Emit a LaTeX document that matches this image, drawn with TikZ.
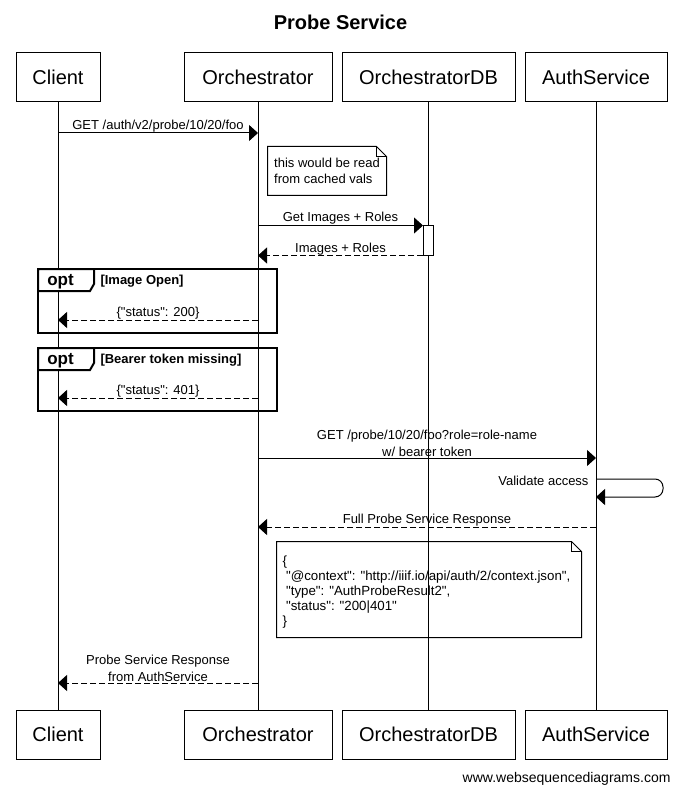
\documentclass[tikz,border=0pt]{standalone}
\usepackage{fontspec}
\setmainfont{Liberation Sans}[Ligatures=TeXOff]
\usetikzlibrary{arrows.meta}

\begin{document}
\begin{tikzpicture}[x=1pt, y=-1pt, line width=1pt,
 actorbox/.style={rectangle, draw=black, fill=white, minimum height=49pt, inner sep=0pt, font=\fontsize{20}{24}\selectfont},
 msg/.style={-{Triangle[length=9pt,width=16pt]}},
 replymsg/.style={msg, dash pattern=on 6pt off 3pt},
 msglabel/.style={font=\fontsize{13}{17}\selectfont, inner sep=0pt, align=center, anchor=base, midway, yshift=3.5pt},
 msglabeltwo/.style={msglabel, yshift=-1.5pt},
 notetext/.style={font=\fontsize{13}{16.5}\selectfont, inner sep=0pt, align=left},
 optframe/.style={line width=2pt},
 opttag/.style={font=\fontsize{17}{20}\bfseries\selectfont, inner sep=0pt, anchor=base},
 guardtext/.style={font=\fontsize{13}{16}\bfseries\selectfont, inner sep=0pt, anchor=base west}]

   \useasboundingbox (0,0) rectangle (681,794);

   \node[font=\fontsize{20}{24}\bfseries\selectfont, inner sep=0pt, anchor=base] (title) at (340.5,30) {Probe Service};

   \node[actorbox, minimum width=84pt] (client) at (58,77.5) {Client};
   \node[actorbox, minimum width=148pt] (orch) at (258,77.5) {Orchestrator};
   \node[actorbox, minimum width=173pt] (db) at (428.5,77.5) {OrchestratorDB};
   \node[actorbox, minimum width=142pt] (auth) at (596,77.5) {AuthService};

   \node[actorbox, minimum width=84pt] (client2) at (58,734.5) {Client};
   \node[actorbox, minimum width=148pt] (orch2) at (258,734.5) {Orchestrator};
   \node[actorbox, minimum width=173pt] (db2) at (428.5,734.5) {OrchestratorDB};
   \node[actorbox, minimum width=142pt] (auth2) at (596,734.5) {AuthService};

   \path [-,black] (client) edge (client2)
                   (orch) edge (orch2)
                   (db) edge (db2)
                   (auth) edge (auth2);

   \node[draw, fill=white, minimum width=10pt, minimum height=29pt, inner sep=0pt] (act) at (428.5,240.5) {};

   \draw[msg] (client |- 0,133) -- node[msglabel] (m1) {GET /auth/v2/probe/10/20/foo} (orch |- 0,133);

   \node[notetext, minimum width=118pt, minimum height=48pt] (note1) at (327,171) {this would be read\\from cached vals};
   \draw (note1.north west) -- ([xshift=-10pt]note1.north east) -- ([yshift=-10pt]note1.north east) -- (note1.south east) -- (note1.south west) -- cycle;
   \draw ([xshift=-10pt]note1.north east) |- ([yshift=-10pt]note1.north east);

   \draw[msg] (orch |- act.north west) -- node[msglabel] (m2) {Get Images + Roles} (act.north west);
   \draw[replymsg] (act.south west) -- node[msglabel] (m3) {Images + Roles} (orch |- act.south west);

   \draw[optframe] (38,269) rectangle (277,333);
   \draw[optframe, fill=white] (38,269) -- (38,291) -- (90,291) -- (94,284) -- (94,269) -- cycle;
   \node[opttag] (opt1) at (60.5,285) {opt};
   \node[guardtext] (guard1) at (100,284) {[Image Open]};
   \draw[replymsg] (orch |- 0,320) -- node[msglabel] (m4) {\{"status": 200\}} (client |- 0,320);

   \draw[optframe] (38,348) rectangle (277,411);
   \draw[optframe, fill=white] (38,348) -- (38,370) -- (90,370) -- (94,363) -- (94,348) -- cycle;
   \node[opttag] (opt2) at (60.5,364) {opt};
   \node[guardtext] (guard2) at (100,363) {[Bearer token missing]};
   \draw[replymsg] (orch |- 0,398) -- node[msglabel] (m5) {\{"status": 401\}} (client |- 0,398);

   \draw[msg] (orch |- 0,458) -- node[msglabeltwo] (m6) {GET /probe/10/20/foo?role=role-name\\w/ bearer token} (auth |- 0,458);

   \coordinate (loop1) at (663,479);
   \coordinate (loop2) at (663,497);
   \draw[msg, rounded corners=8pt] (auth |- loop1) -- (loop1) -- (loop2) -- (auth |- loop2);
   \node[font=\fontsize{13}{16}\selectfont, inner sep=0pt, anchor=base east] (m7) at (589,485) {Validate access};

   \draw[replymsg] (auth |- 0,527) -- node[msglabel] (m8) {Full Probe Service Response} (orch |- 0,527);

   \node[minimum width=304pt, minimum height=95pt, inner sep=0pt] (note2) at (429,589.5) {};
   \draw (note2.north west) -- ([xshift=-10pt]note2.north east) -- ([yshift=-10pt]note2.north east) -- (note2.south east) -- (note2.south west) -- cycle;
   \draw ([xshift=-10pt]note2.north east) |- ([yshift=-10pt]note2.north east);
   \node[notetext, font=\fontsize{13.3}{15}\selectfont, anchor=north west] (json) at (282,555) {\{\\\hspace*{3.6pt}"@context": "http://iiif.io/api/auth/2/context.json",\\\hspace*{3.6pt}"type": "AuthProbeResult2",\\\hspace*{3.6pt}"status": "200|401"\\\}};

   \draw[replymsg] (orch |- 0,683) -- node[msglabeltwo] (m9) {Probe Service Response\\from AuthService} (client |- 0,683);

   \node[font=\fontsize{14}{16}\selectfont, inner sep=0pt, anchor=base east] (footer) at (671,782) {www.websequencediagrams.com};
\end{tikzpicture}
\end{document}
